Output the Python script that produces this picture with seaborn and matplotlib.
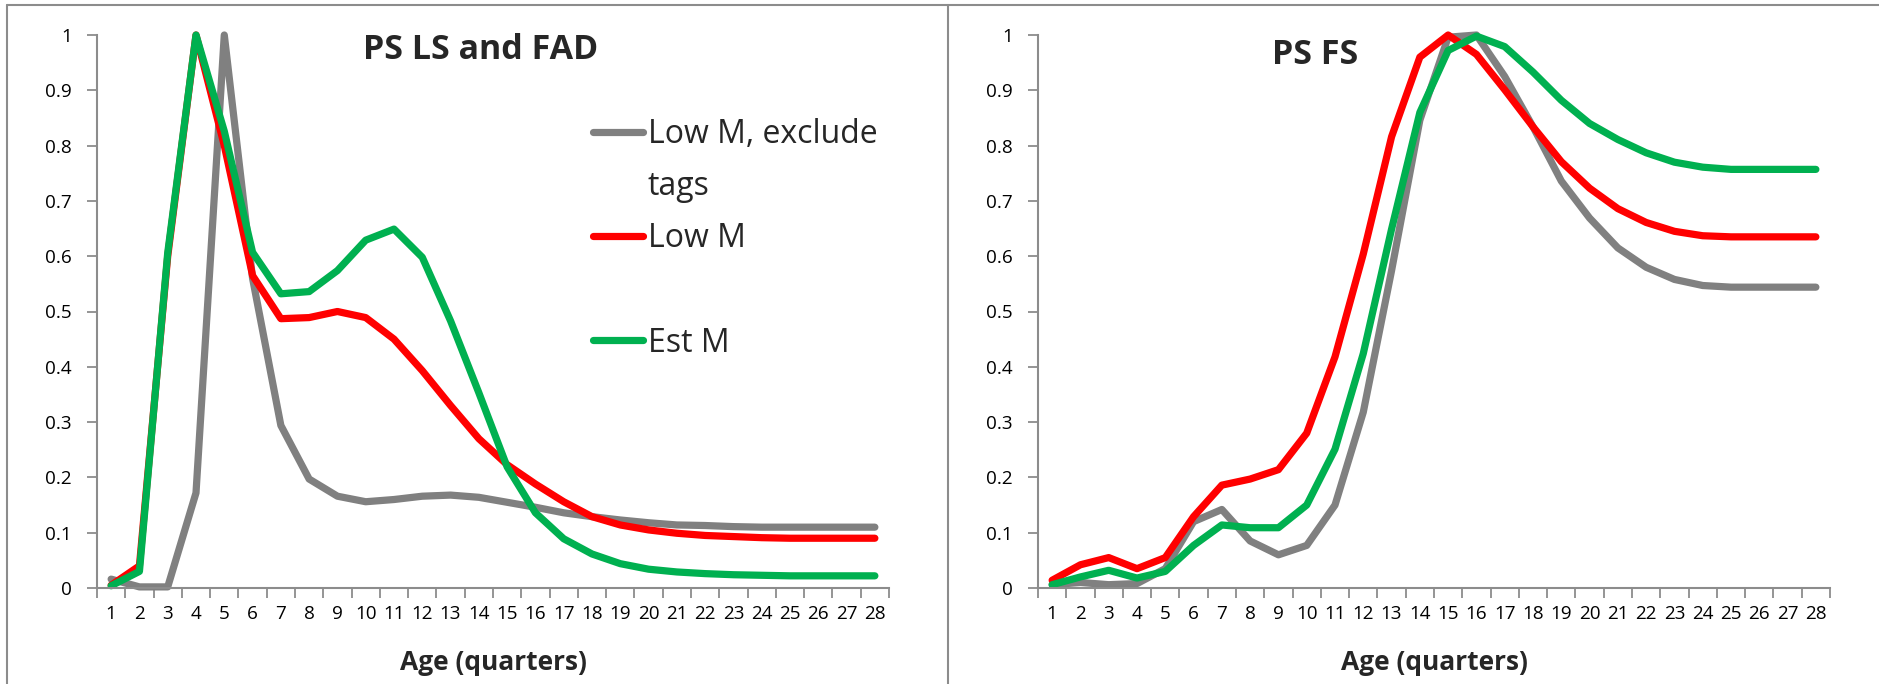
import numpy as np
import pandas as pd
import matplotlib
matplotlib.use("Agg")
import matplotlib.pyplot as plt
from matplotlib.lines import Line2D
import seaborn as sns

# ---------------- data ----------------
ages = list(range(1, 29))
series_names = ["Low M, exclude tags", "Low M", "Est M"]

ls_fad_excl = [0.016, 0.002, 0.002, 0.172, 1.0, 0.56, 0.294, 0.197, 0.166, 0.156,
               0.16, 0.166, 0.168, 0.164, 0.155, 0.146, 0.136, 0.129, 0.123, 0.118,
               0.114, 0.113, 0.111, 0.11, 0.11, 0.11, 0.11, 0.11]
ls_fad_low = [0.005, 0.04, 0.6, 1.0, 0.8, 0.565, 0.487, 0.489, 0.5, 0.489,
              0.45, 0.393, 0.33, 0.27, 0.223, 0.188, 0.156, 0.129, 0.114, 0.105,
              0.099, 0.095, 0.093, 0.091, 0.09, 0.09, 0.09, 0.09]
ls_fad_est = [0.004, 0.03, 0.606, 1.0, 0.826, 0.607, 0.532, 0.536, 0.574, 0.629,
              0.649, 0.598, 0.483, 0.353, 0.219, 0.136, 0.089, 0.0615, 0.044, 0.034,
              0.029, 0.026, 0.024, 0.023, 0.022, 0.022, 0.022, 0.022]

fs_excl = [0.006, 0.01, 0.006, 0.008, 0.035, 0.12, 0.142, 0.085, 0.06, 0.077,
           0.15, 0.318, 0.574, 0.846, 0.996, 1.0, 0.925, 0.834, 0.736, 0.669,
           0.615, 0.58, 0.558, 0.547, 0.544, 0.544, 0.544, 0.544]
fs_low = [0.014, 0.042, 0.055, 0.035, 0.055, 0.129, 0.186, 0.197, 0.214, 0.28,
          0.418, 0.604, 0.816, 0.96, 1.0, 0.965, 0.901, 0.834, 0.771, 0.723,
          0.686, 0.661, 0.645, 0.637, 0.635, 0.635, 0.635, 0.635]
fs_est = [0.006, 0.02, 0.032, 0.018, 0.03, 0.077, 0.114, 0.109, 0.109, 0.15,
          0.251, 0.424, 0.649, 0.86, 0.972, 0.998, 0.979, 0.933, 0.882, 0.84,
          0.811, 0.787, 0.77, 0.761, 0.757, 0.757, 0.757, 0.757]

y_ticks = [0, 0.1, 0.2, 0.3, 0.4, 0.5, 0.6, 0.7, 0.8, 0.9, 1]
y_tick_labels = ["0", "0.1", "0.2", "0.3", "0.4", "0.5", "0.6", "0.7", "0.8", "0.9", "1"]

colors = {"Low M, exclude tags": "#808080", "Low M": "#FF0000", "Est M": "#00B050"}


def make_df(a, b, c):
    return pd.DataFrame({
        "age": ages * 3,
        "value": a + b + c,
        "series": sum([[n] * len(ages) for n in series_names], []),
    })


df_left = make_df(ls_fad_excl, ls_fad_low, ls_fad_est)
df_right = make_df(fs_excl, fs_low, fs_est)

# ---------------- style ----------------
sns.set_style("white")
plt.rcParams["font.family"] = ["Open Sans", "DejaVu Sans"]

W, H = 1879, 684
fig = plt.figure(figsize=(W / 100, H / 100), dpi=100)

# chart-area borders (Excel style)
border_c = "#8c8c8c"
fig.add_artist(Line2D([7 / W, 7 / W], [0, 1 - 5 / H], color=border_c, lw=1.5))
fig.add_artist(Line2D([948 / W, 948 / W], [0, 1 - 5 / H], color=border_c, lw=1.5))
fig.add_artist(Line2D([7 / W, 1], [1 - 5 / H, 1 - 5 / H], color=border_c, lw=1.5))

ax_l = fig.add_axes([97 / W, 96 / H, 792 / W, 553 / H])
ax_r = fig.add_axes([1038 / W, 96 / H, 792 / W, 553 / H])

LW = 5.2
for ax, df in [(ax_l, df_left), (ax_r, df_right)]:
    sns.lineplot(data=df, x="age", y="value", hue="series", hue_order=series_names,
                 palette=colors, linewidth=LW, legend=False, ax=ax, clip_on=False)
    for ln in ax.get_lines():
        ln.set_solid_joinstyle("round")
        ln.set_solid_capstyle("round")
    ax.set_xlim(0.5, 28.5)
    ax.set_ylim(0, 1)
    ax.set_xticks(ages)
    ax.set_xticklabels([str(a) for a in ages])
    ax.set_xticks(np.arange(0.5, 29, 1.0), minor=True)
    ax.set_yticks(y_ticks)
    ax.set_yticklabels(y_tick_labels)
    ax.tick_params(axis="x", which="major", length=0, pad=12, labelsize=13.6, labelcolor="black")
    ax.tick_params(axis="x", which="minor", length=7, width=1.3, color="#8c8c8c", direction="out", bottom=True)
    ax.tick_params(axis="y", which="major", length=7, width=1.3, color="#8c8c8c", direction="out",
                   left=True, pad=11, labelsize=13.6, labelcolor="black")
    for s in ["top", "right"]:
        ax.spines[s].set_visible(False)
    for s in ["left", "bottom"]:
        ax.spines[s].set_color("#8c8c8c")
        ax.spines[s].set_linewidth(1.5)
    ax.set_xlabel("Age (quarters)", fontsize=19, fontweight="bold", labelpad=19)
    ax.set_ylabel("")
    ax.patch.set_alpha(0)

ax_l.text(0.484, 0.973, "PS LS and FAD", transform=ax_l.transAxes, ha="center", va="center",
          fontsize=24.5, fontweight="bold")
ax_r.text(0.35, 0.964, "PS FS", transform=ax_r.transAxes, ha="center", va="center",
          fontsize=24.5, fontweight="bold")

# legend (left panel)
lines = ax_l.get_lines()
blank = Line2D([], [], color="none")
handles = [lines[0], blank, lines[1], blank, lines[2]]
labels = ["Low M, exclude", "tags", "Low M", " ", "Est M"]
leg = ax_l.legend(handles, labels, loc="upper left",
                  bbox_to_anchor=(593 / W, 1 - 118 / H), bbox_transform=fig.transFigure,
                  frameon=False, fontsize=23, handlelength=1.56, handletextpad=0.16,
                  borderpad=0, borderaxespad=0, labelspacing=0.6)
for h in leg.legend_handles:
    h.set_linewidth(LW)
    h.set_solid_capstyle("round")

fig.savefig("out.png", dpi=100)
